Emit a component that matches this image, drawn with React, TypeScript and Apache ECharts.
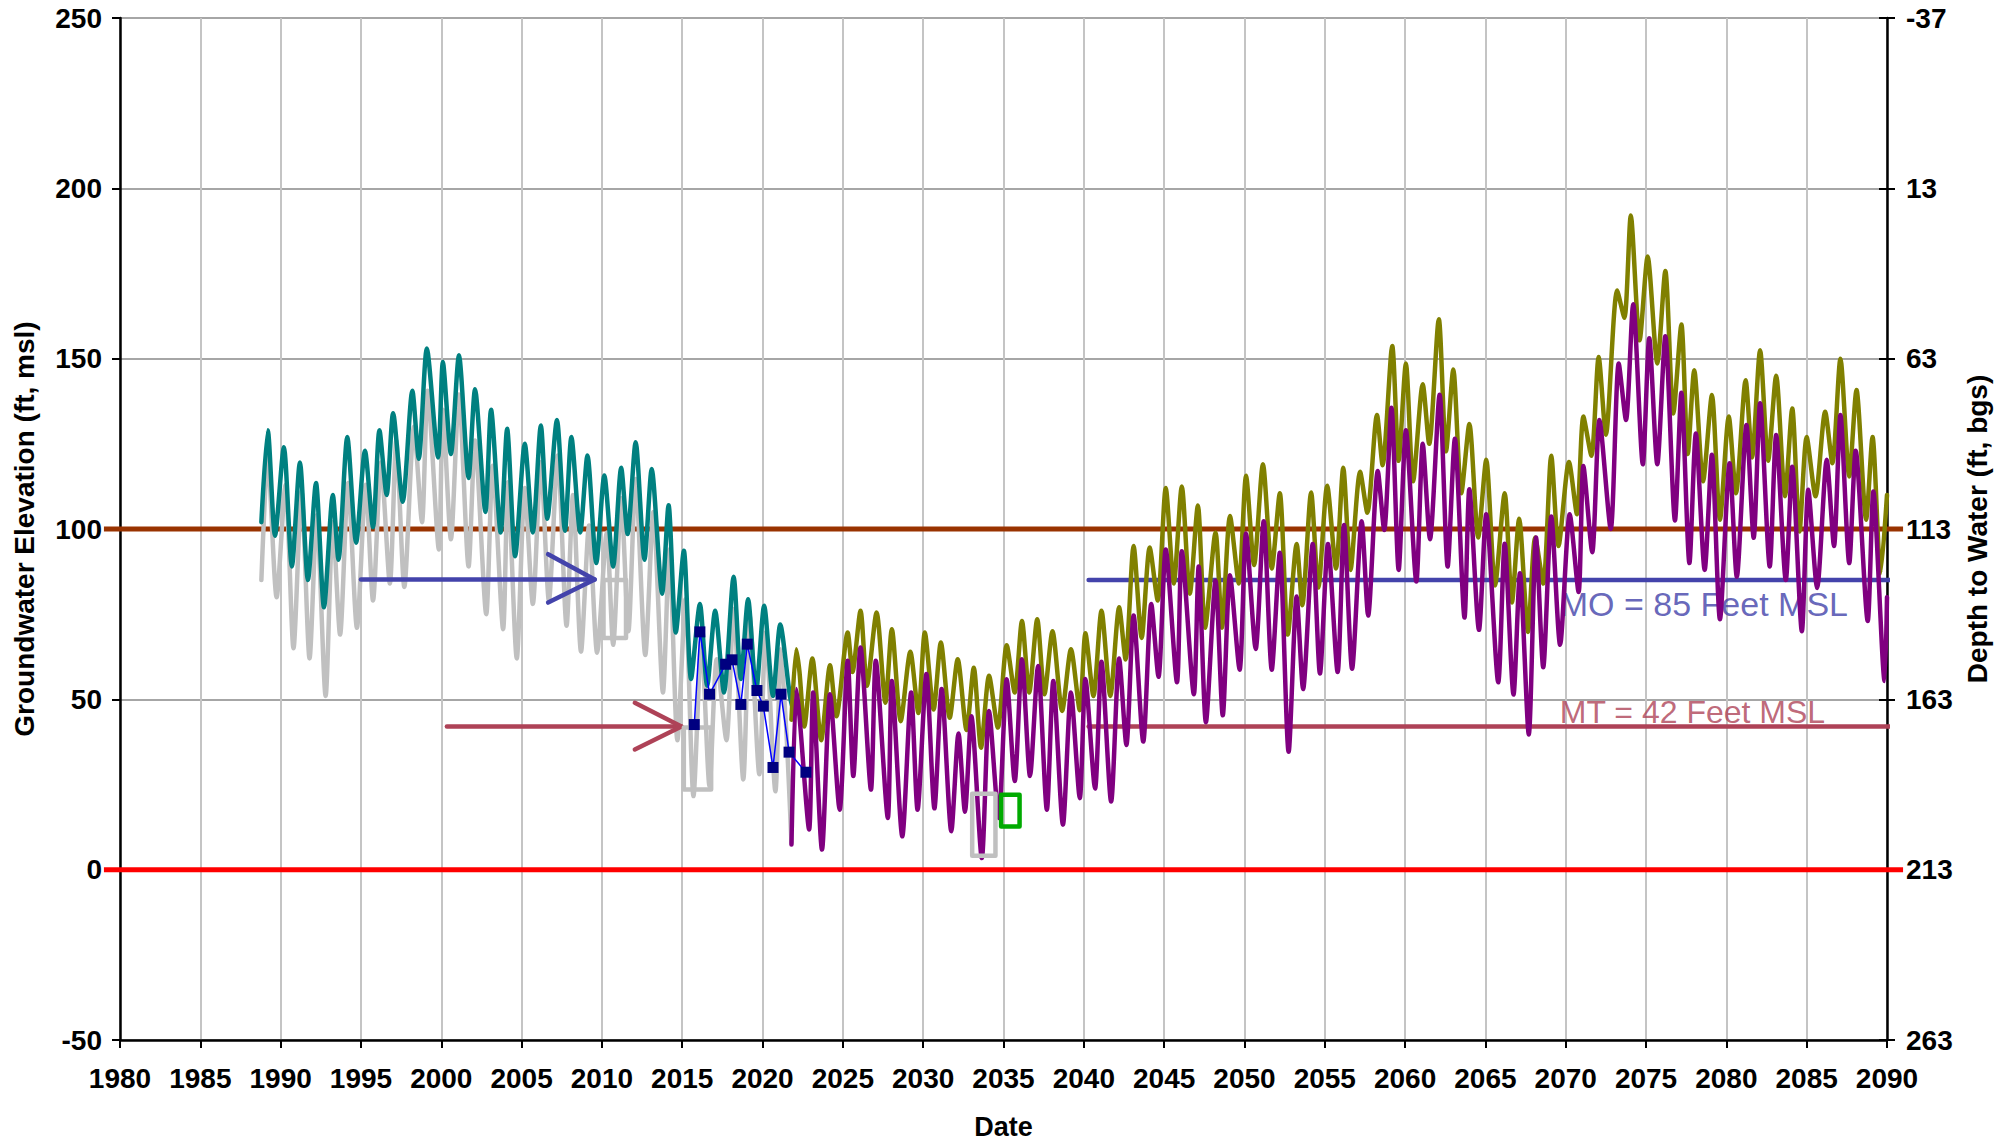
import React, { useEffect, useRef } from "react";
import * as echarts from "echarts";

// ---------- DATA ----------
const xTicks = { min: 1980, max: 2090, step: 5 };
const yTicks = { min: -50, max: 250, step: 50 };
const depthDatum = 213; // depth to water = 213 - elevation

// Historical simulated (gray)
const grayHist: [number, number][] = [
  [1988.8, 85], [1989.2, 121], [1989.75, 80], [1990.3, 113], [1990.8, 65], [1991.3, 111], [1991.8, 62],
  [1992.25, 104], [1992.8, 51], [1993.25, 102], [1993.7, 69], [1994.2, 113.5], [1994.75, 71], [1995.3, 113],
  [1995.75, 79], [1996.25, 119.5], [1996.8, 84], [1997.2, 126], [1997.7, 83], [1998.3, 130], [1998.8, 102],
  [1999.15, 140.6], [1999.85, 94], [2000.1, 135], [2000.6, 97], [2001.1, 139.5], [2001.7, 89], [2002.1, 126],
  [2002.8, 75], [2003.2, 118.6], [2003.85, 70.6], [2004.15, 113.7], [2004.7, 62], [2005.2, 112], [2005.7, 78],
  [2006.2, 119.6], [2006.7, 79], [2007.25, 121.6], [2007.8, 71.6], [2008.2, 110], [2008.7, 64], [2009.2, 101],
  [2009.7, 63.7], [2010.3, 99], [2010.7, 66], [2011.2, 109], [2011.65, 70], [2012.1, 114.7], [2012.7, 63],
  [2013.2, 105], [2013.8, 52], [2014.2, 94], [2014.7, 38], [2015.2, 79.4], [2015.7, 21.6], [2016.2, 67.6],
  [2016.7, 24.5], [2017.15, 61.8], [2017.75, 38], [2018.2, 76.5], [2018.8, 26.5], [2019.2, 74.5], [2019.8, 28],
  [2020.2, 69.6], [2020.8, 23], [2021.15, 64.7], [2021.8, 8],
];

// Historical (teal)
const tealHist: [number, number][] = [
  [1988.8, 102], [1989.2, 129], [1989.65, 98], [1990.2, 124], [1990.7, 89], [1991.2, 119.5], [1991.7, 85],
  [1992.2, 113.5], [1992.7, 77], [1993.25, 110], [1993.6, 91], [1994.15, 127], [1994.7, 96], [1995.25, 123],
  [1995.75, 100.5], [1996.15, 129], [1996.6, 110], [1997.0, 134], [1997.6, 108], [1998.2, 140.6], [1998.6, 120.6],
  [1999.1, 153], [1999.8, 121], [2000.1, 149], [2000.6, 122], [2001.1, 151], [2001.7, 115], [2002.1, 141],
  [2002.75, 105], [2003.1, 135], [2003.7, 99], [2004.1, 129.4], [2004.6, 92], [2005.2, 125], [2005.7, 99],
  [2006.2, 130.4], [2006.6, 103], [2007.2, 132], [2007.7, 99.5], [2008.1, 127], [2008.65, 99], [2009.1, 121.6],
  [2009.65, 90], [2010.15, 115.7], [2010.7, 89], [2011.2, 118], [2011.6, 98.5], [2012.1, 125.5], [2012.65, 91],
  [2013.1, 117.6], [2013.75, 81], [2014.15, 107], [2014.6, 69.6], [2015.1, 93.6], [2015.55, 56], [2016.1, 78],
  [2016.55, 54], [2017.05, 76], [2017.6, 52], [2018.2, 86], [2018.65, 56], [2019.1, 79.4], [2019.6, 52.5],
  [2020.1, 77.5], [2020.65, 51], [2021.1, 72], [2021.7, 51], [2021.9, 47],
];

// Projection (olive)
const oliveProj: [number, number][] = [
  [2021.8, 44], [2022.1, 64.7], [2022.3, 58], [2022.6, 42], [2023.1, 62], [2023.65, 38], [2024.2, 60], [2024.6, 45],
  [2025.3, 69.6], [2025.6, 58], [2026.1, 76], [2026.5, 54], [2027.1, 75.5], [2027.65, 49], [2028.05, 70.6],
  [2028.6, 43.6], [2029.2, 64], [2029.7, 46], [2030.1, 69.6], [2030.65, 47], [2031.1, 66.7], [2031.65, 44.6],
  [2032.15, 61.8], [2032.7, 41], [2033.15, 59.3], [2033.6, 35.8], [2034.1, 56.9], [2034.65, 41.7], [2035.2, 65.9],
  [2035.7, 52], [2036.15, 73], [2036.6, 52], [2037.1, 73.5], [2037.55, 51.5], [2038.05, 70], [2038.65, 46.6],
  [2039.2, 64.7], [2039.75, 46.8], [2040.1, 69.4], [2040.6, 51], [2041.1, 76], [2041.65, 51], [2042.2, 77],
  [2042.6, 61.7], [2043.1, 95], [2043.6, 68], [2044.1, 94.6], [2044.6, 79], [2045.1, 112], [2045.6, 84],
  [2046.1, 112.5], [2046.6, 81], [2047.1, 106.9], [2047.55, 71], [2048.2, 99], [2048.6, 71], [2049.1, 103.8],
  [2049.65, 84], [2050.1, 115.6], [2050.6, 89.4], [2051.15, 119], [2051.7, 88.4], [2052.2, 110.5], [2052.7, 69],
  [2053.25, 95.6], [2053.6, 77.6], [2054.15, 110.7], [2054.6, 82.8], [2055.15, 112.7], [2055.7, 88.4],
  [2056.15, 118], [2056.6, 88], [2057.2, 116.8], [2057.65, 104.8], [2058.25, 133.5], [2058.6, 118.7],
  [2059.2, 153.7], [2059.6, 120], [2060.05, 148.6], [2060.5, 114], [2061.1, 142.5], [2061.5, 125], [2062.1, 161.6],
  [2062.55, 122.8], [2063.0, 146.8], [2063.5, 110.5], [2064.0, 130.8], [2064.55, 97.5], [2065.05, 120.3],
  [2065.6, 83.4], [2066.2, 110.5], [2066.65, 78.4], [2067.1, 103], [2067.65, 69.8], [2068.1, 97.5], [2068.6, 84],
  [2069.1, 121.5], [2069.55, 95], [2070.2, 119.7], [2070.7, 104.3], [2071.1, 133], [2071.6, 121.5], [2072.05, 150.5],
  [2072.5, 127.7], [2073.2, 170], [2073.65, 162], [2074.05, 192], [2074.6, 155.4], [2075.1, 180], [2075.7, 148.6],
  [2076.2, 175.7], [2076.7, 133.9], [2077.2, 160], [2077.6, 122], [2078.0, 146.6], [2078.55, 114], [2079.1, 139.3],
  [2079.6, 102.7], [2080.15, 133], [2080.6, 110.5], [2081.2, 143.7], [2081.6, 121], [2082.1, 152.5], [2082.6, 120],
  [2083.1, 145], [2083.65, 109.6], [2084.1, 135.4], [2084.55, 99.3], [2085.0, 127], [2085.55, 109.6],
  [2086.15, 134.4], [2086.6, 119.3], [2087.1, 150], [2087.65, 115.4], [2088.1, 140.8], [2088.7, 102.7],
  [2089.1, 127], [2089.6, 87], [2090.0, 110],
];

// Projection (purple)
const purpleProj: [number, number][] = [
  [2021.8, 7.4], [2022.1, 53], [2022.3, 45], [2022.9, 11.8], [2023.15, 52], [2023.7, 5.9], [2024.2, 51.5],
  [2024.8, 17.6], [2025.3, 61.3], [2025.65, 27.5], [2026.1, 65.2], [2026.75, 23.5], [2027.05, 61.3], [2027.8, 15.2],
  [2028.05, 55.4], [2028.7, 9.8], [2029.25, 52], [2029.65, 17.6], [2030.2, 57.4], [2030.7, 18], [2031.15, 53],
  [2031.75, 11.3], [2032.2, 40], [2032.6, 17], [2033.0, 45], [2033.65, 3.4], [2034.1, 46.6], [2034.7, 15.2],
  [2035.2, 55.9], [2035.7, 26], [2036.15, 61.8], [2036.65, 27.5], [2037.15, 59.8], [2037.7, 17.6], [2038.1, 55.4],
  [2038.7, 13.2], [2039.2, 52], [2039.75, 21], [2040.1, 56], [2040.7, 23.8], [2041.1, 61], [2041.7, 20],
  [2042.2, 62], [2042.65, 36.6], [2043.1, 74.6], [2043.7, 37.6], [2044.2, 78], [2044.65, 56.6], [2045.1, 94],
  [2045.8, 55], [2046.1, 93.5], [2046.85, 51.5], [2047.15, 89], [2047.6, 43.3], [2048.2, 84.8], [2048.65, 45.3],
  [2049.1, 86.4], [2049.7, 58.7], [2050.1, 98.7], [2050.7, 64.8], [2051.2, 102.3], [2051.7, 58.7], [2052.2, 93],
  [2052.75, 34.6], [2053.25, 80.2], [2053.65, 53], [2054.25, 95.6], [2054.7, 57.6], [2055.2, 95.6], [2055.8, 58],
  [2056.2, 101.2], [2056.7, 59], [2057.3, 102.3], [2057.7, 74.6], [2058.3, 117], [2058.7, 99.7], [2059.15, 135.6],
  [2059.6, 88], [2060.05, 129], [2060.7, 84.6], [2061.1, 125], [2061.55, 97], [2062.15, 139.4], [2062.65, 89],
  [2063.1, 126.5], [2063.7, 74], [2064.0, 111.7], [2064.6, 70.4], [2065.05, 104.3], [2065.8, 55], [2066.2, 95.7],
  [2066.75, 51.4], [2067.15, 87], [2067.7, 39.7], [2068.15, 97.5], [2068.6, 59.4], [2069.1, 103.7], [2069.65, 66],
  [2070.25, 104.3], [2070.8, 81.5], [2071.1, 118.5], [2071.65, 93.2], [2072.1, 132], [2072.8, 100], [2073.3, 148.6],
  [2073.75, 132], [2074.2, 166], [2074.8, 119], [2075.2, 156], [2075.7, 119], [2076.2, 156.6], [2076.8, 102.5],
  [2077.2, 140], [2077.7, 90], [2078.1, 128], [2078.65, 88], [2079.1, 121.8], [2079.6, 73.5], [2080.2, 119.3],
  [2080.65, 86], [2081.25, 130.5], [2081.7, 97.4], [2082.1, 136.9], [2082.7, 89], [2083.1, 127.6], [2083.7, 85],
  [2084.1, 118.3], [2084.7, 70], [2085.1, 111.5], [2085.65, 82.7], [2086.25, 120.3], [2086.7, 95], [2087.1, 133.5],
  [2087.65, 90], [2088.05, 123], [2088.8, 73], [2089.15, 111], [2089.85, 55.4], [2090.0, 80],
];

// Observed measurements
const observed: [number, number][] = [
  [2015.75, 42.6], [2016.1, 69.8], [2016.7, 51.5], [2017.7, 60.3], [2018.1, 61.6], [2018.65, 48.5],
  [2019.05, 66.2], [2019.65, 52.6], [2020.05, 48], [2020.65, 30], [2021.15, 51.5], [2021.65, 34.5], [2022.7, 28.6],
];

// Range boxes: [x1, x2, yLow, yHigh]
const grayBoxes: [number, number, number, number][] = [
  [2010.1, 2011.5, 68, 85],
  [2015.1, 2016.8, 23.5, 41.7],
  [2033.05, 2034.5, 4.1, 22.3],
];
const greenBoxes: [number, number, number, number][] = [[2034.85, 2036.0, 12.7, 22]];

// Reference levels
const refLevel100 = 100;
const refLevel0 = 0;
const moLevel = 85;
const mtLevel = 42;
const refSpan: [number, number] = [1979, 2091];
const thresholdSpan: [number, number] = [2040.3, 2090.2];
const moArrow: [number, number][] = [[1995, 85.2], [2009.55, 85.2]];
const moArrowHead: [number, number][] = [[2006.65, 92.6], [2009.55, 85.2], [2006.65, 78.4]];
const mtArrow: [number, number][] = [[2000.35, 42], [2014.95, 42]];
const mtArrowHead: [number, number][] = [[2012.05, 49], [2014.95, 42], [2012.05, 35.3]];
const moText = { label: "MO = 85 Feet MSL", at: [2069.6, 78] as [number, number] };
const mtText = { label: "MT = 42 Feet MSL", at: [2069.6, 46.4] as [number, number] };

// ---------- HELPERS ----------
const FONT = "'Liberation Sans', Arial, Helvetica, sans-serif";
const boxPath = (b: [number, number, number, number]): [number, number][] => [
  [b[0], b[2]], [b[1], b[2]], [b[1], b[3]], [b[0], b[3]], [b[0], b[2]],
];

const lineSeries = (data: any[], color: string, width: number, z: number, extra: any = {}) => ({
  type: "line",
  data,
  symbol: "none",
  silent: true,
  z,
  lineStyle: { color, width, cap: "round", join: "round" },
  ...extra,
});

export default function App() {
  const ref = useRef<HTMLDivElement>(null);

  useEffect(() => {
    if (!ref.current) return;
    const chart = echarts.init(ref.current, undefined, { renderer: "svg" });

    const labelStyle = { fontFamily: FONT, fontWeight: "bold" as const, fontSize: 28, color: "#000" };
    const wave = { smooth: 0.25 };

    const series: any[] = [
      lineSeries(thresholdSpan.map((x) => [x, moLevel]), "#4343AB", 4.5, 1, { clip: false }),
      lineSeries(thresholdSpan.map((x) => [x, mtLevel]), "#AE4257", 4.5, 1),
      lineSeries(moArrow, "#4343AB", 4.5, 6),
      lineSeries(moArrowHead, "#4343AB", 4.5, 6),
      lineSeries(mtArrow, "#AE4257", 4.5, 6),
      lineSeries(mtArrowHead, "#AE4257", 4.5, 6),
      {
        type: "scatter",
        data: [moText.at],
        symbolSize: 1,
        itemStyle: { color: "transparent" },
        silent: true,
        z: 2,
        label: {
          show: true, position: "right", distance: 0, formatter: moText.label,
          fontFamily: FONT, fontSize: 34, color: "#3F3FA8",
        },
      },
      {
        type: "scatter",
        data: [mtText.at],
        symbolSize: 1,
        itemStyle: { color: "transparent" },
        silent: true,
        z: 2,
        label: {
          show: true, position: "right", distance: 0, formatter: mtText.label,
          fontFamily: FONT, fontSize: 32, color: "#AE4257",
        },
      },
      lineSeries(grayHist, "#c0c0c0", 4.5, 3, wave),
      lineSeries(tealHist, "#008080", 4.5, 4, wave),
      lineSeries(oliveProj, "#808000", 4.5, 4, wave),
      lineSeries(purpleProj, "#800080", 4.5, 5, wave),
      ...grayBoxes.map((b) => lineSeries(boxPath(b), "#c0c0c0", 4.5, 6)),
      ...greenBoxes.map((b) => lineSeries(boxPath(b), "#00aa00", 4.5, 6)),
      {
        type: "line",
        data: observed,
        symbol: "rect",
        symbolSize: 11,
        silent: true,
        z: 7,
        lineStyle: { color: "#0000ff", width: 1.5 },
        itemStyle: { color: "#000080" },
      },
    ];

    chart.setOption({
      animation: false,
      backgroundColor: "#ffffff",
      grid: { left: 120, right: 119, top: 18, bottom: 104, containLabel: false },
      xAxis: {
        type: "value",
        min: xTicks.min,
        max: xTicks.max,
        interval: xTicks.step,
        name: "Date",
        nameLocation: "middle",
        nameGap: 73,
        nameTextStyle: { ...labelStyle, fontSize: 27 },
        axisLine: { show: true, onZero: false, lineStyle: { color: "#000", width: 2.5 } },
        axisTick: { show: true, length: 8, lineStyle: { color: "#000", width: 2 } },
        axisLabel: { ...labelStyle, margin: 24, formatter: (v: number) => String(v) },
        splitLine: { show: true, lineStyle: { color: "#c4c4c4", width: 2 } },
      },
      yAxis: [
        {
          type: "value",
          position: "left",
          min: yTicks.min,
          max: yTicks.max,
          interval: yTicks.step,
          name: "Groundwater Elevation (ft, msl)",
          nameLocation: "middle",
          nameGap: 82,
          nameTextStyle: labelStyle,
          axisLine: { show: true, onZero: false, lineStyle: { color: "#000", width: 2.5 } },
          axisTick: { show: true, length: 8, lineStyle: { color: "#000", width: 2 } },
          axisLabel: { ...labelStyle, margin: 18, formatter: (v: number) => String(v) },
          splitLine: { show: true, lineStyle: { color: "#a6a6a6", width: 2 } },
        },
        {
          type: "value",
          position: "right",
          min: yTicks.min,
          max: yTicks.max,
          interval: yTicks.step,
          name: "Depth to Water (ft, bgs)",
          nameLocation: "middle",
          nameRotate: 90,
          nameGap: 76,
          nameTextStyle: labelStyle,
          axisLine: { show: true, onZero: false, lineStyle: { color: "#000", width: 2.5 } },
          axisTick: { show: true, length: 8, lineStyle: { color: "#000", width: 2 } },
          axisLabel: { ...labelStyle, margin: 19, formatter: (v: number) => String(depthDatum - v) },
          splitLine: { show: false },
        },
        {
          type: "value",
          position: "right",
          min: yTicks.min,
          max: yTicks.max,
          interval: yTicks.step,
          axisLine: { show: false },
          axisTick: { show: true, inside: true, length: 8, lineStyle: { color: "#000", width: 2 } },
          axisLabel: { show: false },
          splitLine: { show: false },
        },
      ],
      series,
    });

    // Reference levels that run slightly past both axes (positions via the chart's own scales)
    const toPx = (p: [number, number]) => chart.convertToPixel({ xAxisIndex: 0, yAxisIndex: 0 }, p) as number[];
    const refLines: [number, string][] = [[refLevel100, "#993300"], [refLevel0, "#ff0000"]];
    chart.setOption({
      graphic: refLines.map(([lvl, color]) => {
        const a = toPx([refSpan[0], lvl]);
        const b = toPx([refSpan[1], lvl]);
        return {
          type: "line",
          silent: true,
          z: 1,
          shape: { x1: a[0], y1: a[1], x2: b[0], y2: b[1] },
          style: { stroke: color, lineWidth: 5 },
        };
      }),
    });

    return () => chart.dispose();
  }, []);

  return <div ref={ref} style={{ width: 2006, height: 1145, position: "absolute", left: 0, top: 0 }} />;
}
